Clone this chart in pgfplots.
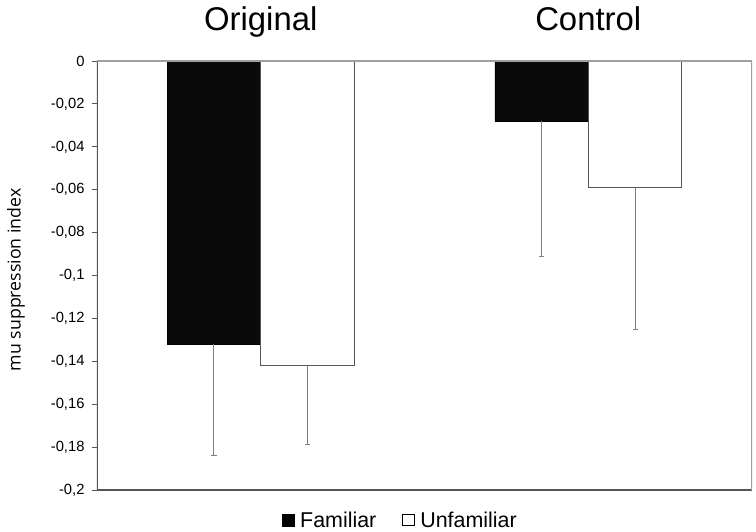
\documentclass[border=0pt]{standalone}
\usepackage{pgfplots}
\pgfplotsset{compat=1.18}
\usepackage{fontspec}
\setmainfont{Liberation Sans}
\newfontfamily\labelfont{Open Sans}

\definecolor{axisdark}{HTML}{555555}
\definecolor{axislight}{HTML}{A0A0A0}
\definecolor{errgray}{HTML}{808080}

\begin{document}
\begin{tikzpicture}
\begin{axis}[
  scale only axis, width=655bp, height=429bp,
  xmin=-0.5, xmax=1.5, ymin=-0.2, ymax=0,
  axis line style={draw=none},
  % categories sit at 0 and 1, names above the plot like the original;
  % each bar is 93.5bp = 0.14275 x-units half-width, so bars are placed at +-0.14275
  xtick={0,1}, xticklabels={Original,Control},
  xticklabel pos=right, xtick style={draw=none},
  xticklabel style={font=\fontsize{33}{36}\selectfont, anchor=base, yshift=25bp},
  ytick={-0.2,-0.18,-0.16,-0.14,-0.12,-0.1,-0.08,-0.06,-0.04,-0.02,0},
  ytick pos=left, tick align=outside, major tick length=5bp,
  ytick style={draw=axisdark, line width=0.8bp},
  yticklabel style={font=\fontsize{14.8}{16}\selectfont, xshift=-4bp},
  /pgf/number format/use comma, /pgf/number format/fixed,
  /pgf/number format/precision=2, /pgf/number format/assume math mode=true,
  ylabel={mu suppression index},
  ylabel style={font=\labelfont\fontsize{17.8}{20}\selectfont,
                at={(rel axis cs:0,0.49)}, anchor=center, yshift=81bp},
  legend style={at={(rel axis cs:0.463,-0.07)}, anchor=center, draw=none, fill=none,
                font=\fontsize{21.5}{23}\selectfont, legend columns=2,
                /tikz/every odd column/.append style={column sep=4bp},
                /tikz/every even column/.append style={column sep=24bp}},
  ]
  \addplot[ybar, bar width=93.5bp, bar shift=0pt, fill=black!96, draw=black,
           legend image code/.code={\fill[black] (0bp,-6bp) rectangle (12bp,6bp);},
           error bars/.cd, y dir=minus, y explicit,
           error bar style={draw=errgray, line width=1bp},
           error mark options={rotate=90, draw=errgray, line width=1bp, mark size=2.5bp}]
    coordinates {(-0.14275,-0.132) -= (0,0.052) (0.85725,-0.028) -= (0,0.063)};
  \addplot[ybar, bar width=93.5bp, bar shift=0pt, fill=white, draw=axisdark, line width=1bp,
           legend image code/.code={\draw[black, line width=0.8bp, fill=white] (0bp,-5.6bp) rectangle (11.2bp,5.6bp);},
           error bars/.cd, y dir=minus, y explicit,
           error bar style={draw=errgray, line width=1bp},
           error mark options={rotate=90, draw=errgray, line width=1bp, mark size=2.5bp}]
    coordinates {(0.14275,-0.142) -= (0,0.037) (1.14275,-0.059) -= (0,0.066)};
  \legend{Familiar, Unfamiliar}
  % frame: dark left and bottom, light top (category axis at 0) and right
  \draw[axisdark, line width=1.2bp] (rel axis cs:0,0) -- (rel axis cs:0,1);
  \draw[axisdark, line width=1.2bp] (rel axis cs:0,0) -- (rel axis cs:1,0);
  \draw[axislight, line width=1.2bp] (rel axis cs:0,1) -- (rel axis cs:1,1);
  \draw[axislight, line width=1.2bp] (rel axis cs:1,0) -- (rel axis cs:1,1);
  \draw[axislight, line width=1bp] (axis cs:0.5,0) -- ++(0,-5bp);
  \coordinate (axbl) at (rel axis cs:0,0);
  \coordinate (axtr) at (rel axis cs:1,1);
\end{axis}
\pgfresetboundingbox
\path ([shift={(-97bp,-42bp)}]axbl) rectangle ([shift={(4bp,61bp)}]axtr);
\end{tikzpicture}
\end{document}
